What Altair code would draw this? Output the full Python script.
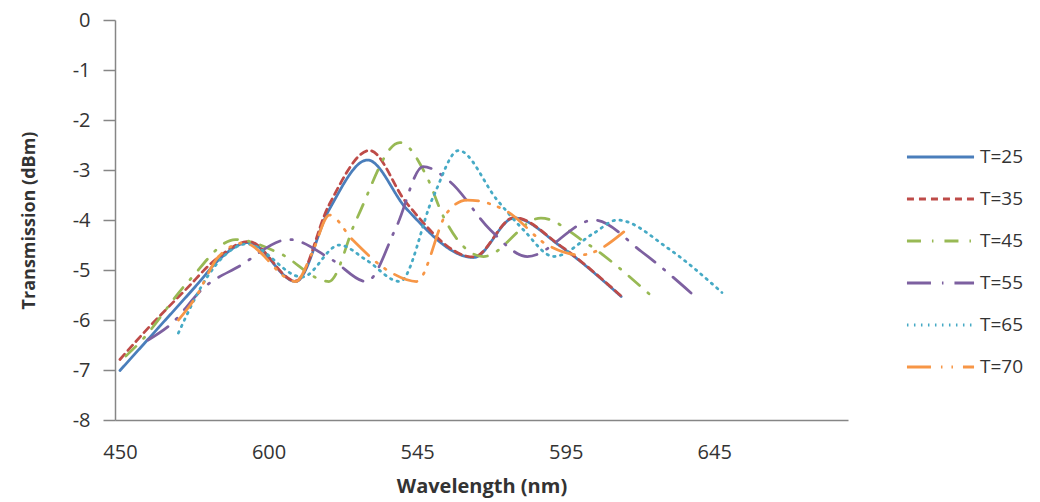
import altair as alt
import pandas as pd

series = ["T=25", "T=35", "T=45", "T=55", "T=65", "T=70"]
colors = ["#4A7EBB", "#BE4B48", "#98B954", "#7D60A0", "#46AAC5", "#F79646"]
dashes = [[1, 0], [7, 5], [14, 11, 1.5, 11], [24, 11, 1.5, 11], [1.5, 5.5], [24, 10, 1.5, 9, 1.5, 10]]

# x = category index of the (category) wavelength axis, y = transmission in dBm
t25_x = [0, 3.86, 7.93, 9.96, 13.0, 17.75, 21.1, 25.0, 28.9, 35.7, 39.8, 44.5, 50.6]
t25_y = [-7.01, -6.16, -5.26, -4.8, -4.45, -5.23, -3.8, -2.8, -3.77, -4.75, -3.96, -4.53, -5.53]

t35_x = [0, 2.2, 6.6, 9.9, 13.0, 17.75, 21.1, 25.2, 28.9, 35.7, 39.8, 44.5, 50.6]
t35_y = [-6.79, -6.3, -5.4, -4.75, -4.43, -5.22, -3.7, -2.61, -3.65, -4.74, -3.95, -4.52, -5.52]

t45_x = [0.6, 2.0, 6.9, 11.66, 16.06, 21.1, 23.85, 28.25, 30.97, 32.65, 36.7, 42.5, 46.85, 53.66]
t45_y = [-6.72, -6.45, -5.23, -4.39, -4.66, -5.23, -4.0, -2.45, -3.13, -3.93, -4.73, -3.96, -4.43, -5.52]

t55_x = [2.85, 5.05, 8.6, 12.0, 17.07, 21.44, 24.87, 27.92, 30.6, 33.3, 37.4, 41.13, 47.87, 52.64, 58.06]
t55_y = [-6.4, -6.1, -5.33, -4.93, -4.39, -4.8, -5.23, -4.13, -2.93, -3.23, -4.2, -4.73, -4.0, -4.63, -5.53]

t65_x = [5.9, 8.94, 10.5, 12.8, 18.4, 22.15, 24.87, 28.25, 31.64, 34.18, 38.08, 40.75, 43.8, 47.87, 50.2, 55.36, 60.77]
t65_y = [-6.26, -5.1, -4.72, -4.48, -5.14, -4.5, -4.8, -5.23, -3.53, -2.61, -3.6, -4.2, -4.73, -4.26, -4.0, -4.57, -5.45]

t70_x = [5.9, 7.6, 9.96, 12.5, 17.75, 19.4, 21.14, 23.5, 27.2, 29.95, 33.0, 35.03, 39.1, 43.16, 46.5, 51.1]
t70_y = [-6.0, -5.56, -4.73, -4.46, -5.23, -4.66, -3.9, -4.4, -5.03, -5.23, -3.86, -3.6, -3.83, -4.5, -4.7, -4.2]

tick_positions = [0, 15, 30, 45, 60]
tick_labels = ["450", "600", "545", "595", "645"]
y_ticks = [-8, -7, -6, -5, -4, -3, -2, -1, 0]

xs = [t25_x, t35_x, t45_x, t55_x, t65_x, t70_x]
ys = [t25_y, t35_y, t45_y, t55_y, t65_y, t70_y]
rows = []
for name, xv, yv in zip(series, xs, ys):
    for a, b in zip(xv, yv):
        rows.append({"series": name, "idx": a, "val": b})
df = pd.DataFrame(rows)

expr = ""
for p, l in zip(tick_positions, tick_labels):
    expr += f"datum.value == {p} ? '{l}' : "
expr += "''"

legend = alt.Legend(
    title=None, orient="none", legendX=790, legendY=116,
    symbolType="stroke", symbolSize=4500, symbolStrokeWidth=3,
    labelFontSize=19, labelColor="#333333", rowPadding=0, labelOffset=4,
    clipHeight=42, padding=0,
)

chart = alt.Chart(df).mark_line(
    interpolate="monotone", strokeWidth=2.75, strokeCap="round"
).encode(
    x=alt.X("idx:Q",
            scale=alt.Scale(domain=[-0.5, 73.5], nice=False, zero=False),
            axis=alt.Axis(values=tick_positions, labelExpr=expr, title="Wavelength (nm)",
                          grid=False, ticks=False, tickSize=0, labelPadding=22,
                          titlePadding=14, labelFontSize=20, titleFontSize=20,
                          titleFontWeight="bold", domainColor="#868686", domainWidth=1.5,
                          labelColor="#333333", titleColor="#333333")),
    y=alt.Y("val:Q",
            scale=alt.Scale(domain=[-8, 0], nice=False, zero=False),
            axis=alt.Axis(values=y_ticks, labelExpr="datum.value + ''",
                          title="Transmission (dBm)",
                          grid=False, tickSize=12, tickColor="#868686", tickWidth=1.5,
                          domainColor="#868686", domainWidth=1.5, labelPadding=13,
                          titlePadding=34, labelFontSize=20, titleFontSize=18,
                          titleFontWeight="bold", labelColor="#333333",
                          titleColor="#333333")),
    color=alt.Color("series:N", sort=series,
                    scale=alt.Scale(domain=series, range=colors), legend=legend),
    strokeDash=alt.StrokeDash("series:N", sort=series,
                              scale=alt.Scale(domain=series, range=dashes), legend=legend),
).properties(
    width=733, height=400,
    autosize=alt.AutoSizeParams(type="none"),
    padding={"left": 115, "top": 20, "right": 192, "bottom": 82},
    background="white",
).configure(font="Open Sans").configure_view(stroke=None)

chart.save("out.html", embed_options={"renderer": "svg", "actions": False})
